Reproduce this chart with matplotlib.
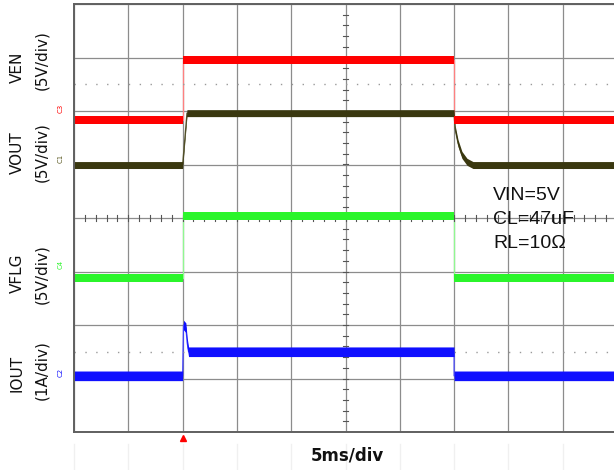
import numpy as np
import matplotlib
matplotlib.use('Agg')
import matplotlib.pyplot as plt
from matplotlib.lines import Line2D

# ---- scope data (time in ms, trigger at 0) ----
t_ven = [-10, 0, 0, 25, 25, 40]
ven = [0, 0, 5.6, 5.6, 0, 0]                # V

t_vout = [-10, 0, 0.4, 25, 25.08, 25.36, 25.72, 26.19, 26.74, 40]
vout = [0, 0, 4.85, 4.85, 3.45, 2.05, 0.95, 0.3, 0, 0]   # V

t_vflg = [-10, 0, 0, 25, 25, 40]
vflg = [0, 0, 5.8, 5.8, 0, 0]               # V

t_iout = [-10, 0, 0.08, 0.3, 0.42, 0.55, 25, 25, 40]
iout = [0, 0, 0.95, 0.9, 0.62, 0.45, 0.45, 0, 0]        # A

channel_names = ['VEN', 'VOUT', 'VFLG', 'IOUT']
channel_scales = ['(5V/div)', '(5V/div)', '(5V/div)', '(1A/div)']
channel_tags = ['C3', 'C1', 'C4', 'C2']
notes = ['VIN=5V', 'CL=47uF', 'RL=10\u03a9']

W, H = 614, 470
fig = plt.figure(figsize=(W / 100, H / 100), dpi=100)


def fx(x):
    return x / W


def fy(y):
    return 1 - y / H


ax = fig.add_axes([fx(74), fy(432), (617 - 74) / W, (432 - 4) / H])
ax.set_xlim(-10, 40)
ax.set_ylim(0, 8)
ax.set_xticks(np.arange(-10, 41, 5))
ax.set_yticks(np.arange(0, 9, 1))
ax.tick_params(length=0, labelbottom=False, labelleft=False)
ax.grid(color='#8c8c8c', lw=0.9)
ax.set_axisbelow(True)
for s in ['left', 'top', 'bottom']:
    ax.spines[s].set_color('#606060')
    ax.spines[s].set_linewidth(1.4)
ax.spines['right'].set_visible(False)

# centre cross-hair minor ticks
for yy in np.arange(0.2, 8, 0.2):
    ax.plot([14.8, 15.2], [yy, yy], color='#555555', lw=0.8)
for xx in np.arange(-9, 40, 1):
    ax.plot([xx, xx], [3.95, 4.05], color='#555555', lw=0.8)

# dotted reference lines
for yy in [6.5, 1.5]:
    ax.plot([-10, 40], [yy, yy], color='#9a9a9a', lw=1, ls=(0, (1, 6.82)))


def trace(t, v, off, scale, color, half, edge):
    y = off + np.asarray(v, dtype=float) / scale
    ax.plot(t, y, color=edge, lw=0.9, zorder=1.8)
    ax.fill_between(t, y - half, y + half, color=color, lw=0, zorder=2)


trace(t_vout, vout, 4.99, 5, '#3a3810', 0.065, '#5a5830')
trace(t_ven, ven, 5.83, 5, '#ff0000', 0.075, '#ff8080')
trace(t_vflg, vflg, 2.88, 5, '#2bf52b', 0.075, '#90f890')
trace(t_iout, iout, 1.05, 1, '#1010ff', 0.09, '#4a4aff')

# trigger marker
ax.plot([0], [-0.12], marker='^', color='#ff0000', ms=4.5, clip_on=False)

# faint ghost lines below the screen
for xx in np.linspace(74, 617, 11):
    fig.add_artist(Line2D([fx(xx)] * 2, [0, fy(444)], color='#f0f0f0', lw=1))

# left channel labels
name_y = [67, 153, 273, 373]
scale_y = [60, 152, 274, 370]
for name, sc, ny, sy in zip(channel_names, channel_scales, name_y, scale_y):
    fig.text(fx(17), fy(ny), name, rotation=90, ha='center', va='center',
             fontsize=11, color='#111111')
    fig.text(fx(42), fy(sy), sc, rotation=90, ha='center', va='center',
             fontsize=11, color='#111111')

tag_y = [108, 158, 264, 372]
tag_c = ['#ff0000', '#5a5820', '#2bf52b', '#1010ff']
for tag, ty, tc in zip(channel_tags, tag_y, tag_c):
    fig.text(fx(61), fy(ty), tag, rotation=90, ha='center', va='center',
             fontsize=5, color=tc)

fig.text(fx(347), fy(456), '5ms/div', ha='center', va='center',
         fontsize=12, fontweight='bold', color='#111111')

for note, ny in zip(notes, [196, 220, 244]):
    fig.text(fx(493), fy(ny), note, ha='left', va='center',
             fontsize=14, family='Liberation Sans', color='#111111')

fig.savefig('out.png', dpi=100)
